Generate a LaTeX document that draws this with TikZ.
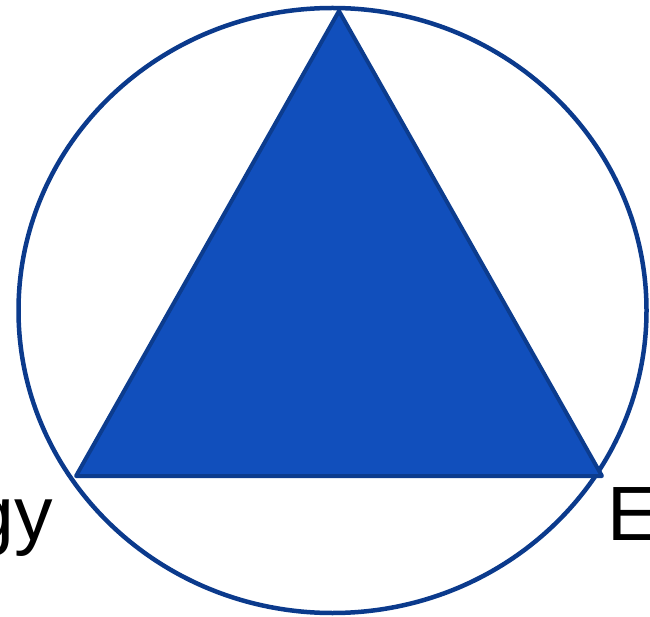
\documentclass[tikz,border=0pt]{standalone}
\usepackage{fontspec}
\setmainfont{Liberation Sans}
\usetikzlibrary{shapes.geometric}
\definecolor{ringblue}{HTML}{0B3A8C}
\definecolor{fillblue}{HTML}{114FBC}
\definecolor{edgeblue}{HTML}{0C3C8E}
\begin{document}
\begin{tikzpicture}[x=1pt,y=-1pt,
  ring/.style={draw=ringblue,line width=4.5pt},
  tri/.style={fill=fillblue,draw=edgeblue,line width=4pt,line join=round},
  lbl/.style={inner sep=0pt,font=\fontsize{77}{80}\selectfont}]
\useasboundingbox (0,0) rectangle (650,617);
\clip (0,0) rectangle (650,617);
\node[ring,ellipse,minimum width=628pt,minimum height=605pt,inner sep=0pt] (c) at (332.5,310.5) {};
\coordinate (t) at (339,11);
\coordinate (bl) at (76,476);
\coordinate (br) at (602,476);
\draw[tri] (t) -- (bl) -- (br) -- cycle;
\node[lbl,anchor=base east] (l) at (53,540) {gy};
\node[lbl,anchor=base west] (r) at (607,540) {E};
\end{tikzpicture}
\end{document}
